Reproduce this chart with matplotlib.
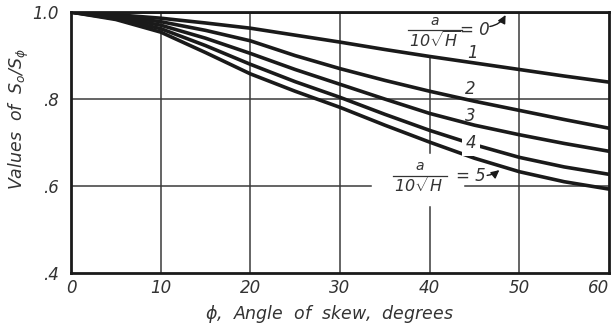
import matplotlib
matplotlib.use('Agg')
import matplotlib.pyplot as plt

# skew angle, degrees
phi = [0, 5, 10, 15, 20, 25, 30, 35, 40, 45, 50, 55, 60]

# values of S0/Sphi for a/(10 sqrt H) = 0 .. 5
ratio_0 = [1.0] * 13
ratio_1 = [1.0, 0.994, 0.986, 0.975, 0.963, 0.947, 0.931, 0.914, 0.898, 0.883, 0.868, 0.853, 0.839]
ratio_2 = [1.0, 0.991, 0.978, 0.958, 0.934, 0.900, 0.870, 0.843, 0.818, 0.795, 0.774, 0.753, 0.733]
ratio_3 = [1.0, 0.988, 0.970, 0.940, 0.905, 0.868, 0.834, 0.800, 0.767, 0.740, 0.718, 0.698, 0.680]
ratio_4 = [1.0, 0.985, 0.962, 0.923, 0.880, 0.840, 0.804, 0.765, 0.728, 0.695, 0.666, 0.644, 0.627]
ratio_5 = [1.0, 0.983, 0.954, 0.907, 0.858, 0.818, 0.781, 0.740, 0.701, 0.664, 0.633, 0.610, 0.593]
curves = [ratio_0, ratio_1, ratio_2, ratio_3, ratio_4, ratio_5]

xticks = [0, 10, 20, 30, 40, 50, 60]
yticks = [0.4, 0.6, 0.8, 1.0]
ytick_labels = ['.4', '.6', '.8', '1.0']

ink = '#1a1a1a'
grid = '#3a3a3a'
txt = '#333333'
plt.rcParams['font.family'] = ['DejaVu Sans']
plt.rcParams['font.style'] = 'italic'
plt.rcParams['mathtext.fontset'] = 'custom'
plt.rcParams['mathtext.it'] = 'DejaVu Sans:italic'
plt.rcParams['mathtext.rm'] = 'DejaVu Sans:italic'

fig = plt.figure(figsize=(6.13, 3.27), dpi=100)
ax = fig.add_axes([0.1158, 0.165, 0.8777, 0.798])
ax.set_xlim(0, 60)
ax.set_ylim(0.4, 1.0)

# grid, with the gaps left for the labels
for x in [10, 20, 30, 50]:
    ax.plot([x, x], [0.4, 1.0], color=grid, lw=1.1, zorder=1)
ax.plot([40, 40], [0.4, 0.551], color=grid, lw=1.1, zorder=1)
ax.plot([40, 40], [0.677, 0.897], color=grid, lw=1.1, zorder=1)
ax.plot([0, 60], [0.8, 0.8], color=grid, lw=1.1, zorder=1)
ax.plot([0, 33.5], [0.6, 0.6], color=grid, lw=1.1, zorder=1)
ax.plot([43.9, 60], [0.6, 0.6], color=grid, lw=1.1, zorder=1)

for c in curves:
    ax.plot(phi, c, color=ink, lw=2.6, solid_capstyle='round',
            solid_joinstyle='round', zorder=3)

for s in ax.spines.values():
    s.set_linewidth(2.0)
    s.set_color(ink)

ax.set_xticks(xticks)
ax.set_xticklabels([str(t) for t in xticks])
ax.set_yticks(yticks)
ax.set_yticklabels(ytick_labels)
ax.tick_params(length=0, labelsize=12, colors=txt)
ax.tick_params(axis='x', pad=4)
ax.tick_params(axis='y', pad=9)
ax.get_xticklabels()[-1].set_horizontalalignment('right')
ax.get_xticklabels()[-1].set_x(60.3)

ax.set_xlabel(r'$\phi$,  Angle  of  skew,  degrees', fontsize=12.5, color=txt)
ax.xaxis.set_label_coords(0.481, -0.115)
ax.set_ylabel(r'Values  of  $S_o / S_\phi$', fontsize=12.5, color=txt)
ax.yaxis.set_label_coords(-0.075, 0.59)

# curve labels
lab = dict(fontsize=12, color=txt, ha='center', va='center', zorder=4)
ax.text(44.8, 0.906, '1', **lab)
ax.text(44.5, 0.823, '2', **lab)
ax.text(44.5, 0.762, '3', **lab)
ax.text(44.6, 0.698, '4', bbox=dict(fc='white', ec='none', pad=2.5), **lab)


def fraction(xc, yc):
    ax.text(xc, yc + 0.022, 'a', fontsize=10, color=txt, ha='center', va='center')
    ax.plot([xc - 3.0, xc + 3.0], [yc, yc], color=txt, lw=0.9)
    ax.text(xc, yc - 0.024, r'$10\sqrt{H}$', fontsize=11.5, color=txt, ha='center', va='center')


fraction(40.6, 0.958)
ax.text(45.0, 0.958, '= 0', **lab)
ax.annotate('', xy=(48.6, 0.999), xytext=(46.4, 0.966),
            arrowprops=dict(arrowstyle='-|>', color=ink, lw=1.0, mutation_scale=12,
                            connectionstyle='arc3,rad=0.3'), zorder=4)

fraction(38.9, 0.624)
ax.text(44.6, 0.624, '= 5', **lab)
ax.annotate('', xy=(48.0, 0.641), xytext=(46.1, 0.624),
            arrowprops=dict(arrowstyle='-|>', color=ink, lw=1.0, mutation_scale=12,
                            connectionstyle='arc3,rad=0.2'), zorder=4)

fig.savefig('out.png', dpi=100)
